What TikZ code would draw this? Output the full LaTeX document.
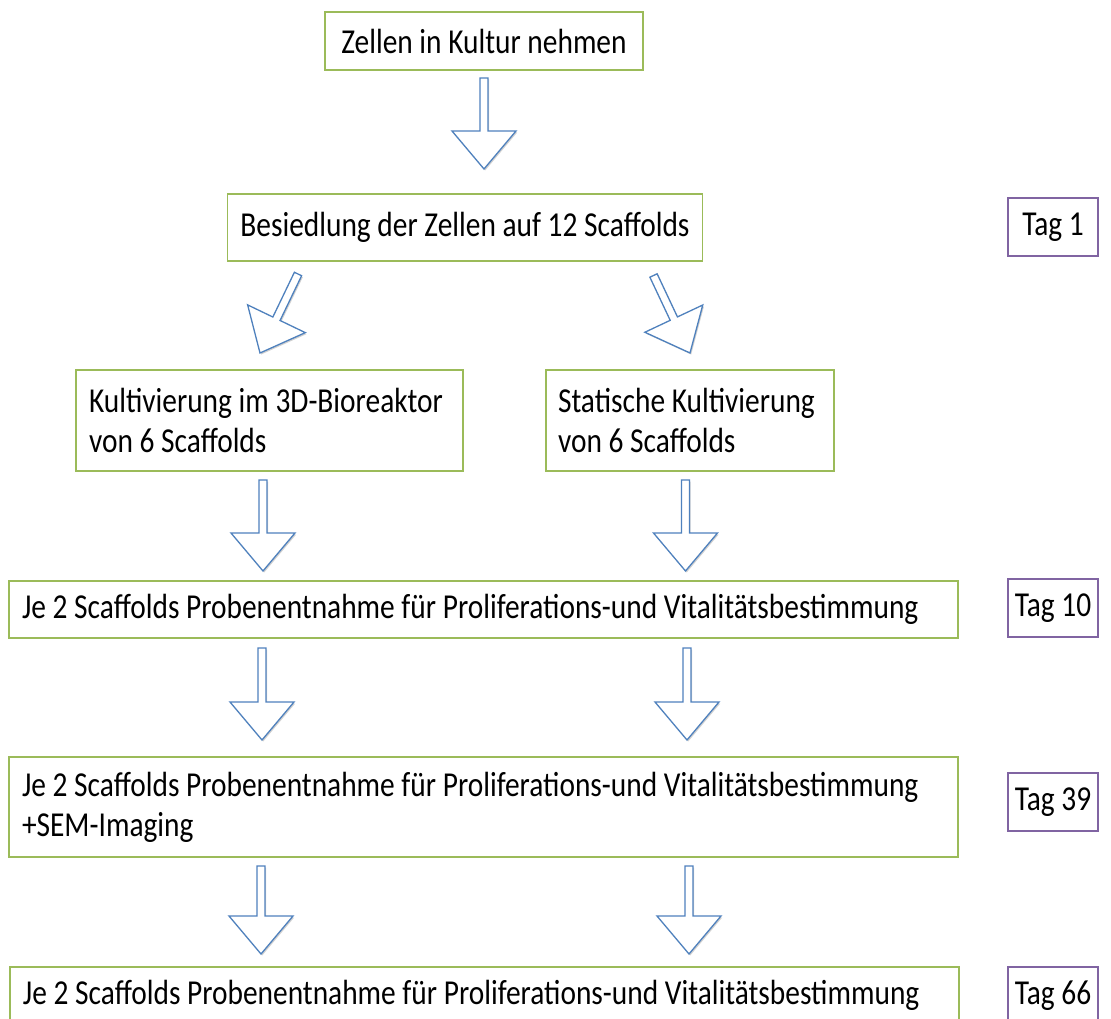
\documentclass[tikz,border=0pt]{standalone}
\usepackage{fontspec}
\setmainfont{Carlito}[FakeStretch=0.84]
\usetikzlibrary{calc,shadows}
\definecolor{boxgreen}{HTML}{9BBB59}
\definecolor{tagpurple}{HTML}{8064A2}
\definecolor{arrowblue}{HTML}{4F81BD}
\tikzset{
  stepbox/.style={draw=boxgreen, line width=1.6pt, inner ysep=0pt, inner xsep=13pt,
    align=flush left, font=\fontsize{35}{40}\selectfont},
  tagbox/.style={draw=tagpurple, line width=1.3pt, minimum width=90pt, minimum height=58pt,
    inner sep=0pt, font=\fontsize{35}{40}\selectfont},
  barrow/.style={draw=arrowblue, line width=1.3pt, fill=white, line join=miter,
    drop shadow={shadow xshift=1.2pt, shadow yshift=-1.5pt, opacity=0.18, fill=black}}
}
\newcommand\blockarrow[2]{%
  \coordinate (bb) at ($(#2)!38pt!(#1)$);
  \draw[barrow] ($(#1)!4pt!90:(#2)$) -- ($(bb)!4pt!90:(#2)$) -- ($(bb)!32pt!90:(#2)$)
    -- (#2) -- ($(bb)!32pt!-90:(#2)$) -- ($(bb)!4pt!-90:(#2)$) -- ($(#1)!4pt!-90:(#2)$) -- cycle;}
\begin{document}
\begin{tikzpicture}[x=1pt,y=1pt]
\useasboundingbox (0,0) rectangle (1111,-1019);
\clip (0,0) rectangle (1111,-1019);
\fill[white] (0,0) rectangle (1111,-1019);
% step boxes
\node[stepbox, align=center, minimum width=318pt, minimum height=58pt] (A) at (484,-41) {Zellen in Kultur nehmen};
\node[stepbox, align=center, minimum width=454pt, minimum height=67pt] (B) at (465,-227.5) {Besiedlung der Zellen auf 12 Scaffolds};
\node[stepbox, text width=361pt, minimum height=101pt] (C) at (269.5,-420.5) {\mbox{Kultivierung im 3D-Bioreaktor}\\von 6 Scaffolds};
\node[stepbox, text width=264pt, inner xsep=12pt, minimum height=101pt] (D) at (690,-420.5) {\mbox{Statische Kultivierung}\\von 6 Scaffolds};
\node[stepbox, text width=923pt, minimum height=57pt] (E) at (483.5,-609.5) {\mbox{Je 2 Scaffolds Probenentnahme für Proliferations-und Vitalitätsbestimmung}};
\node[stepbox, text width=923pt, minimum height=100pt] (F) at (483.5,-807) {\mbox{Je 2 Scaffolds Probenentnahme für Proliferations-und Vitalitätsbestimmung}\\+SEM-Imaging};
\node[stepbox, text width=923pt, minimum height=57pt] (G) at (484.5,-995.5) {\mbox{Je 2 Scaffolds Probenentnahme für Proliferations-und Vitalitätsbestimmung}};
% day boxes
\node[tagbox] (T1) at (1053,-227) {Tag 1};
\node[tagbox] (T10) at (1053,-608) {Tag 10};
\node[tagbox] (T39) at (1053,-802) {Tag 39};
\node[tagbox] (T66) at (1053,-996) {Tag 66};
% arrow ends
\coordinate (a1s) at (484,-78);   \coordinate (a1t) at (484,-169);
\coordinate (a2s) at (298,-274);  \coordinate (a2t) at (260,-353);
\coordinate (a3s) at (653.5,-275.5); \coordinate (a3t) at (690,-353);
\coordinate (a4s) at (263,-480);  \coordinate (a4t) at (263,-571);
\coordinate (a5s) at (685.5,-480); \coordinate (a5t) at (685.5,-571);
\coordinate (a6s) at (262,-648);  \coordinate (a6t) at (262,-740);
\coordinate (a7s) at (687,-648);  \coordinate (a7t) at (687,-740);
\coordinate (a8s) at (261,-866);  \coordinate (a8t) at (261,-954);
\coordinate (a9s) at (689,-866);  \coordinate (a9t) at (689,-954);
\blockarrow{a1s}{a1t}
\blockarrow{a2s}{a2t}
\blockarrow{a3s}{a3t}
\blockarrow{a4s}{a4t}
\blockarrow{a5s}{a5t}
\blockarrow{a6s}{a6t}
\blockarrow{a7s}{a7t}
\blockarrow{a8s}{a8t}
\blockarrow{a9s}{a9t}
\end{tikzpicture}
\end{document}
